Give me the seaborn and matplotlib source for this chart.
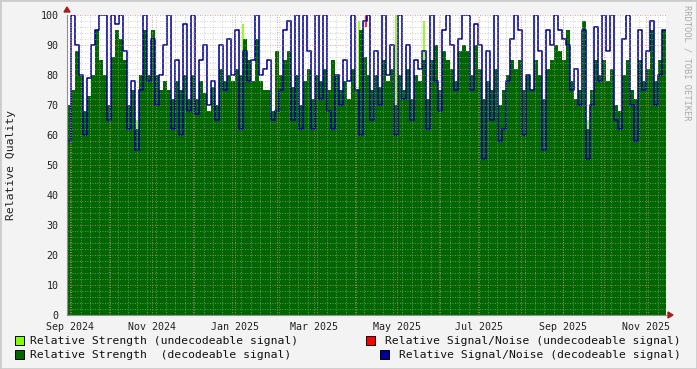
import numpy as np
import pandas as pd
import matplotlib
matplotlib.use("Agg")
import matplotlib.pyplot as plt
import matplotlib.dates as mdates
from matplotlib.patches import Rectangle, Polygon
import seaborn as sns

# ---- data (roughly every 3 days) ----
start_date = "2024-08-30"
end_date = "2025-11-16"

strength = [70, 75, 88, 80, 68, 73, 80, 95, 85, 80, 70, 86, 95, 92, 85, 70, 75, 62, 80, 95, 80, 95, 80, 75, 78,
            75, 72, 78, 75, 80, 72, 80, 72, 78, 74, 68, 76, 70, 82, 78, 80, 78, 82, 80, 92, 85, 78, 92, 78, 75,
            75, 68, 88, 80, 85, 88, 76, 80, 70, 78, 82, 72, 80, 78, 82, 75, 85, 80, 75, 78, 72, 82, 75, 95, 86,
            80, 75, 80, 76, 85, 78, 82, 70, 80, 75, 82, 72, 80, 78, 85, 72, 85, 90, 75, 88, 85, 82, 78, 88, 90,
            88, 80, 90, 82, 72, 78, 75, 82, 70, 75, 80, 85, 82, 85, 75, 80, 75, 85, 80, 72, 82, 85, 90, 88, 85,
            95, 78, 72, 75, 98, 62, 75, 85, 80, 85, 78, 82, 70, 68, 80, 85, 75, 72, 85, 78, 82, 95, 78, 85, 95]

snr = [58, 100, 90, 80, 60, 79, 90, 95, 100, 100, 65, 100, 97, 100, 88, 62, 78, 55, 75, 100, 78, 92, 70, 80, 90,
       100, 62, 85, 60, 97, 68, 100, 67, 85, 90, 70, 78, 65, 90, 75, 92, 80, 95, 62, 88, 78, 85, 100, 80, 82,
       85, 65, 68, 75, 95, 98, 65, 100, 62, 100, 88, 62, 100, 72, 100, 68, 62, 80, 70, 85, 78, 100, 75, 60, 98,
       100, 65, 88, 70, 100, 80, 90, 60, 100, 72, 90, 65, 85, 82, 88, 62, 100, 78, 68, 95, 100, 90, 75, 92, 100,
       100, 75, 97, 90, 52, 88, 65, 100, 58, 62, 78, 92, 100, 95, 60, 80, 75, 100, 88, 55, 95, 90, 100, 95, 92,
       90, 75, 82, 70, 95, 52, 70, 96, 78, 100, 88, 100, 65, 62, 92, 100, 70, 58, 95, 75, 88, 98, 70, 80, 95]

# undecodeable samples (sparse)
weak_dates = ["2024-10-16", "2024-10-21", "2025-01-07", "2025-04-03", "2025-04-30",
              "2025-05-21", "2025-07-09", "2025-09-19"]
weak_vals = [70, 65, 97, 98, 100, 98, 64, 65]
noisy_dates = ["2025-04-08"]
noisy_vals = [100]

y_ticks = [0, 10, 20, 30, 40, 50, 60, 70, 80, 90, 100]
legend_left = ["Relative Strength (undecodeable signal)", "Relative Strength  (decodeable signal)"]
legend_right = ["Relative Signal/Noise (undecodeable signal)", "Relative Signal/Noise (decodeable signal)"]

# ---- style ----
sns.set_theme(style="white")
plt.rcParams["font.family"] = ["DejaVu Sans Mono"]

C_BG = "#F3F3F3"
C_DARK = "#006600"
C_LIGHT = "#7FFF00"
C_RED = "#FF0000"
C_BLUE = "#000099"

W, H = 697, 369
fig = plt.figure(figsize=(W / 100, H / 100), dpi=100, facecolor=C_BG)
x0, x1, y0, y1 = 67, 666, 15, 315
ax = fig.add_axes([x0 / W, 1 - y1 / H, (x1 - x0) / W, (y1 - y0) / H])
ax.set_facecolor("white")

t = pd.date_range(start_date, end_date, periods=len(strength) + 1)
df = pd.DataFrame({"date": t,
                   "strength": strength + [strength[-1]],
                   "snr": snr + [snr[-1]]})

# undecodeable strength spikes (behind decodeable area)
wd = pd.to_datetime(weak_dates)
ax.vlines(wd, 0, weak_vals, color=C_LIGHT, lw=1.2, zorder=1)

ax.fill_between(df["date"], df["strength"], 0, step="post", color=C_DARK, lw=0, zorder=2)

nd = pd.to_datetime(noisy_dates)
ax.vlines(nd, np.array(noisy_vals) - 4, noisy_vals, color=C_RED, lw=1.2, zorder=4)

sns.lineplot(data=df, x="date", y="snr", drawstyle="steps-post", color=C_BLUE, lw=1.15, ax=ax,
             zorder=5, legend=False)

# grid
xmin, xmax = pd.Timestamp(start_date), pd.Timestamp(end_date)
ax.set_xlim(xmin, xmax)
ax.set_ylim(0, 100)
for v in np.arange(0, 100, 2):
    if v % 10:
        ax.axhline(v, color="#B0B0B0", lw=0.6, ls=(0, (1, 2)), zorder=6, alpha=0.8)
for v in y_ticks[1:]:
    ax.axhline(v, color="#E08080", lw=0.6, ls=(0, (1, 2)), zorder=6)
weeks = pd.date_range(xmin, xmax, freq="W-MON")
for d in weeks:
    ax.axvline(d, color="#B0B0B0", lw=0.6, ls=(0, (1, 2)), zorder=6, alpha=0.8)
months = pd.date_range("2024-09-01", xmax, freq="MS")
for d in months:
    ax.axvline(d, color="#E08080", lw=0.6, ls=(0, (1, 2)), zorder=6)

ax.set_yticks(y_ticks)
ax.set_yticklabels([str(v) for v in y_ticks], fontsize=7.2, color="#222222")
ax.xaxis.set_major_locator(mdates.MonthLocator(bymonth=[1, 3, 5, 7, 9, 11]))
ax.xaxis.set_major_formatter(mdates.DateFormatter("%b %Y"))
ax.tick_params(axis="x", labelsize=7.2, colors="#222222", length=3, width=0.6, pad=2)
ax.tick_params(axis="y", labelsize=7.2, colors="#222222", length=3, width=0.6, pad=3)
ax.tick_params(axis="both", color="#C04040")
ax.set_xlabel("")
ax.set_ylabel("Relative Quality", fontsize=8.2, color="#222222")
ax.yaxis.set_label_coords((16 - x0) / (x1 - x0), 0.5)

for s in ["top", "right"]:
    ax.spines[s].set_visible(False)
for s in ["left", "bottom"]:
    ax.spines[s].set_color("#909090")
    ax.spines[s].set_linewidth(0.8)
    ax.spines[s].set_zorder(7)

# arrows (figure pixel coords)
def fpt(px, py):
    return (px / W, 1 - py / H)
fig.add_artist(Polygon([fpt(64, 12), fpt(70, 12), fpt(67, 7)], closed=True,
                       color="#A02020", transform=fig.transFigure))
fig.add_artist(Polygon([fpt(668, 312), fpt(668, 318), fpt(673, 315)], closed=True,
                       color="#A02020", transform=fig.transFigure))

# legend
fs = 8.2
def box(px, py, color):
    fig.add_artist(Rectangle(fpt(px, py + 9), 9 / W, 9 / H, facecolor=color, edgecolor="black",
                             lw=0.7, transform=fig.transFigure))
box(15, 336, C_LIGHT)
fig.text(30 / W, 1 - 341 / H, legend_left[0], fontsize=fs, va="center", ha="left", color="#111111")
box(15, 350, C_DARK)
fig.text(30 / W, 1 - 355 / H, legend_left[1], fontsize=fs, va="center", ha="left", color="#111111")
box(366, 336, C_RED)
fig.text(681 / W, 1 - 341 / H, legend_right[0], fontsize=fs, va="center", ha="right", color="#111111")
box(380, 350, C_BLUE)
fig.text(681 / W, 1 - 355 / H, legend_right[1], fontsize=fs, va="center", ha="right", color="#111111")

fig.text(687 / W, 1 - 5 / H, "RRDTOOL / TOBI OETIKER", fontsize=6.3, rotation=270, va="top",
         ha="center", color="#AAAAAA")

# outer border
fig.add_artist(Rectangle((0, 0), 1, 1, fill=False, edgecolor="#CCCCCC", lw=2, transform=fig.transFigure))

fig.savefig("out.png", dpi=100, facecolor=C_BG)
